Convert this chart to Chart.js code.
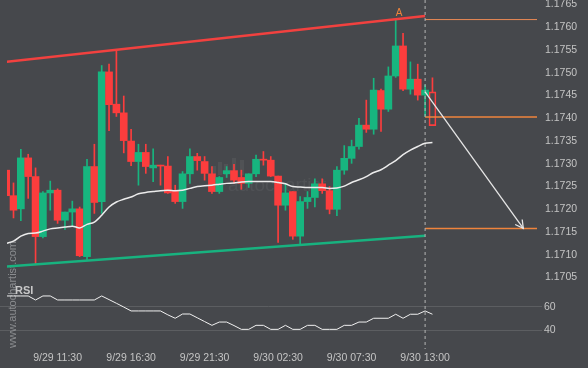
<!DOCTYPE html>
<html><head><meta charset="utf-8">
<script src="https://cdn.jsdelivr.net/npm/chart.js@4.4.1/dist/chart.umd.min.js"></script>
<style>html,body{margin:0;padding:0;background:#46484c;}#wrap{width:588px;height:368px;position:relative;}</style>
</head><body><div id="wrap"><canvas id="c"></canvas></div>
<script>
// ---- DATA (30-minute candles) ----
const opens  = [1.17286,1.17230,1.17201,1.17313,1.17272,1.17140,1.17236,1.17242,1.17176,1.17194,
                1.17201,1.17096,1.17294,1.17217,1.17502,1.17431,1.17412,1.17350,1.17305,1.17325,
                1.17291,1.17297,1.17295,1.17240,1.17217,1.17278,1.17316,1.17305,1.17278,1.17239,
                1.17278,1.17285,1.17270,1.17257,1.17278,1.17310,1.17308,1.17273,1.17209,1.17239,
                1.17141,1.17217,1.17226,1.17256,1.17241,1.17200,1.17286,1.17312,1.17338,1.17385,
                1.17376,1.17461,1.17420,1.17493,1.17559,1.17464,1.17486,1.17451,1.17458];
const highs  = [1.17290,1.17258,1.17332,1.17321,1.17291,1.17239,1.17262,1.17245,1.17194,1.17218,
                1.17205,1.17310,1.17343,1.17516,1.17519,1.17549,1.17449,1.17376,1.17343,1.17343,
                1.17333,1.17297,1.17316,1.17253,1.17283,1.17333,1.17323,1.17316,1.17294,1.17272,
                1.17294,1.17299,1.17286,1.17278,1.17319,1.17327,1.17316,1.17273,1.17256,1.17239,
                1.17228,1.17239,1.17267,1.17267,1.17250,1.17294,1.17340,1.17352,1.17400,1.17440,
                1.17488,1.17464,1.17513,1.17616,1.17587,1.17524,1.17519,1.17473,1.17489];
const lows   = [1.17228,1.17181,1.17175,1.17224,1.17078,1.17137,1.17198,1.17169,1.17156,1.17162,
                1.17096,1.17090,1.17191,1.17191,1.17373,1.17404,1.17324,1.17296,1.17253,1.17279,
                1.17261,1.17253,1.17235,1.17213,1.17202,1.17257,1.17286,1.17264,1.17235,1.17235,
                1.17270,1.17257,1.17244,1.17248,1.17272,1.17297,1.17272,1.17127,1.17198,1.17134,
                1.17124,1.17202,1.17205,1.17235,1.17190,1.17186,1.17277,1.17301,1.17332,1.17369,
                1.17365,1.17371,1.17415,1.17490,1.17461,1.17453,1.17440,1.17404,1.17384];
const closes = [1.17230,1.17198,1.17313,1.17272,1.17140,1.17236,1.17242,1.17176,1.17194,1.17201,
                1.17098,1.17294,1.17215,1.17502,1.17430,1.17412,1.17351,1.17305,1.17325,1.17294,
                1.17297,1.17295,1.17236,1.17217,1.17278,1.17316,1.17307,1.17279,1.17239,1.17270,
                1.17285,1.17264,1.17257,1.17278,1.17310,1.17308,1.17273,1.17209,1.17236,1.17141,
                1.17217,1.17226,1.17256,1.17241,1.17200,1.17286,1.17312,1.17338,1.17385,1.17376,
                1.17462,1.17420,1.17493,1.17559,1.17464,1.17486,1.17451,1.17462,1.17384];
const maValues = [1.17125,1.17130,1.17141,1.17147,1.17148,1.17152,1.17157,1.17159,1.17161,1.17163,
                1.17159,1.17167,1.17172,1.17187,1.17205,1.17216,1.17222,1.17227,1.17234,1.17237,
                1.17239,1.17241,1.17242,1.17241,1.17242,1.17246,1.17250,1.17252,1.17253,1.17255,
                1.17257,1.17258,1.17260,1.17261,1.17261,1.17261,1.17261,1.17259,1.17256,1.17250,
                1.17249,1.17248,1.17248,1.17248,1.17246,1.17247,1.17251,1.17259,1.17265,1.17272,
                1.17281,1.17287,1.17297,1.17307,1.17320,1.17330,1.17338,1.17345,1.17347];
const rsiValues = [69.1,69.1,69.1,69.1,65.7,69.1,69.1,65.7,65.7,65.7,
                65.7,65.7,65.7,69.1,66.0,62.9,59.7,56.4,56.4,56.4,
                56.4,56.4,53.1,50.2,53.8,53.8,50.6,47.4,44.2,47.0,
                47.0,44.0,40.8,40.8,44.2,44.2,40.8,40.8,44.2,40.8,
                40.8,44.2,44.2,40.8,40.8,40.8,44.2,44.2,47.0,47.0,
                50.2,50.2,50.2,53.6,50.2,53.6,53.6,56.4,53.6];
const hollowCandle = 59;                 // last, still-forming candle (1-based position)
const timeTickPositions = [8,18,28,38,48,58];
const timeTickLabels = ['9/29 11:30','9/29 16:30','9/29 21:30','9/30 02:30','9/30 07:30','9/30 13:00'];
const priceTicks = [1.1705,1.1710,1.1715,1.1720,1.1725,1.1730,1.1735,1.1740,1.1745,1.1750,1.1755,1.1760,1.1765];
const rsiTicks = [40,60];
const trendX = [1,58];
const upperTrend = [1.17524,1.17625];
const lowerTrend = [1.17074,1.17142];
const markerCandle = 58;
const levelA = 1.17617, levelEntry = 1.17403, levelTarget = 1.17158;
const arrowX = [58,71.36], arrowY = [1.17458,1.17158];
const patternPointA = {x:54, y:1.17616, label:'A'};

// ---- scale ranges (both value axes span the whole plot height) ----
const X_MIN = 0.163, X_MAX = 73.224;
const P_MIN = 1.16893, P_MAX = 1.17660;
const R_MIN = 24.15, R_MAX = 319.9;

const GREEN = '#17b57f', RED = '#fc3d3d', ORANGE = '#f0843c', TXT = '#c4c4c4';
const FONT = '"Liberation Sans", Arial, sans-serif';
Chart.defaults.font.family = FONT;
Chart.defaults.font.size = 10.5;

const pos = opens.map((_, i) => i + 1);
const CLIP = {left: -7, top: 0, right: 0, bottom: 0};

const bodies = pos.filter(p => p !== hollowCandle).map(p => ({x: p, y: [opens[p-1], closes[p-1]]}));
const hollow = [{x: hollowCandle, y: [opens[hollowCandle-1], closes[hollowCandle-1]]}];
const wickHi = pos.map((p, i) => ({x: p, y: [Math.max(opens[i], closes[i]), highs[i]]}));
const wickLo = pos.map((p, i) => ({x: p, y: [lows[i], Math.min(opens[i], closes[i])]}));
const colorBy = ctx => { const r = ctx.raw; return r && closes[r.x-1] >= opens[r.x-1] ? GREEN : RED; };

const lineDs = (data, color, width, extra) => Object.assign({
  type: 'line', data, borderColor: color, borderWidth: width, pointRadius: 0, yAxisID: 'y', clip: CLIP
}, extra || {});

const noPad = s => { s.paddingTop = 0; s.paddingBottom = 0; s.paddingLeft = 0; s.paddingRight = 0; };

const bgPlugin = {
  id: 'bg',
  beforeDraw(chart) {
    const c = chart.ctx; c.save(); c.fillStyle = '#46484c'; c.fillRect(0, 0, chart.width, chart.height); c.restore();
  },
  beforeDatasetsDraw(chart) {
    const c = chart.ctx; c.save();
    c.fillStyle = 'rgba(255,255,255,0.055)';
    c.font = '19px ' + FONT;
    c.textBaseline = 'alphabetic';
    c.fillText('autochartist', 228, 191);
    [[212,166,4,9],[218,162,4,13],[224,164,4,11],[232,158,4,17],[240,160,4,15]].forEach(r => c.fillRect(r[0], r[1], r[2], r[3]));
    c.translate(13, 348); c.rotate(-Math.PI / 2);
    c.fillStyle = '#8b8d90'; c.font = '11px ' + FONT;
    c.textBaseline = 'middle'; c.textAlign = 'left';
    c.fillText('www.autochartist.com', 0, 0);
    c.restore();
  },
  afterDatasetsDraw(chart) {
    const c = chart.ctx, xs = chart.scales.x, ys = chart.scales.y, ca = chart.chartArea;
    c.save();
    c.setTransform(1, 0, 0, 1, 0, 0);
    const x1 = xs.getPixelForValue(arrowX[0]), y1 = ys.getPixelForValue(arrowY[0]);
    const x2 = xs.getPixelForValue(arrowX[1]), y2 = ys.getPixelForValue(arrowY[1]);
    const a = Math.atan2(y2 - y1, x2 - x1), L = 9, th = 0.5;
    c.strokeStyle = '#e6e6e6'; c.lineWidth = 1.3;
    c.beginPath();
    c.moveTo(x2 - L * Math.cos(a - th), y2 - L * Math.sin(a - th)); c.lineTo(x2, y2);
    c.lineTo(x2 - L * Math.cos(a + th), y2 - L * Math.sin(a + th));
    c.stroke();
    c.fillStyle = ORANGE; c.font = '10px ' + FONT;
    c.textAlign = 'center'; c.textBaseline = 'middle';
    c.fillText(patternPointA.label, xs.getPixelForValue(patternPointA.x) + 3.5, ys.getPixelForValue(patternPointA.y) - 6.5);
    c.fillStyle = '#c8c8c8'; c.font = 'bold 11px ' + FONT;
    c.textAlign = 'left';
    c.fillText('RSI', 15, 291);
    // RSI axis labels: same linear mapping as the RSI axis (plot area, R_MIN..R_MAX)
    c.fillStyle = TXT; c.font = '10.5px ' + FONT;
    rsiTicks.forEach(v => {
      const y = ca.top + (R_MAX - v) / (R_MAX - R_MIN) * (ca.bottom - ca.top);
      c.fillText(String(v), ca.right + 7, y);
    });
    c.restore();
  }
};

new Chart(document.getElementById('c'), {
  type: 'bar',
  data: {
    datasets: [
      {type: 'bar', data: wickHi, backgroundColor: colorBy, barThickness: 1, grouped: false, yAxisID: 'y', clip: CLIP, order: 5},
      {type: 'bar', data: wickLo, backgroundColor: colorBy, barThickness: 1, grouped: false, yAxisID: 'y', clip: CLIP, order: 5},
      {type: 'bar', data: bodies, backgroundColor: colorBy, barThickness: 7, minBarLength: 1, grouped: false, yAxisID: 'y', clip: CLIP, order: 4},
      {type: 'bar', data: hollow, backgroundColor: 'rgba(0,0,0,0)', borderColor: RED, borderWidth: 1, borderSkipped: false, barThickness: 7, grouped: false, yAxisID: 'y', clip: CLIP, order: 4},
      lineDs(pos.map((p, i) => ({x: p, y: maValues[i]})), '#ececec', 1.5, {cubicInterpolationMode: 'monotone', order: 3}),
      lineDs(trendX.map((x, i) => ({x, y: upperTrend[i]})), '#f2413f', 2.5, {order: 2}),
      lineDs(trendX.map((x, i) => ({x, y: lowerTrend[i]})), '#18b27f', 2.5, {order: 2}),
      lineDs([{x: markerCandle, y: P_MAX}, {x: markerCandle, y: P_MIN}], '#b5b5b5', 1, {borderDash: [3, 3], order: 1, clip: false}),
      lineDs([{x: markerCandle, y: levelA}, {x: X_MAX, y: levelA}], '#eb8a55', 1, {order: 1}),
      lineDs([{x: markerCandle, y: levelEntry}, {x: X_MAX, y: levelEntry}], ORANGE, 1.5, {order: 1}),
      lineDs([{x: markerCandle, y: levelTarget}, {x: X_MAX, y: levelTarget}], ORANGE, 1.5, {order: 1}),
      lineDs(arrowX.map((x, i) => ({x, y: arrowY[i]})), '#e6e6e6', 1.3, {order: 0}),
      lineDs(pos.map((p, i) => ({x: p, y: rsiValues[i]})), '#f0f0f0', 1, {yAxisID: 'rsi', order: 1})
    ]
  },
  options: {
    responsive: true, maintainAspectRatio: false, animation: false,
    layout: {padding: 0},
    plugins: {legend: {display: false}, tooltip: {enabled: false}},
    scales: {
      x: {
        type: 'linear', min: X_MIN, max: X_MAX, offset: false,
        grid: {display: false, drawTicks: false}, border: {display: false},
        afterBuildTicks: s => { s.ticks = timeTickPositions.map(v => ({value: v})); },
        afterFit: s => { s.height = 19; noPad(s); },
        ticks: {autoSkip: false, maxRotation: 0, padding: 3, color: TXT,
          callback: v => timeTickLabels[timeTickPositions.indexOf(v)]}
      },
      rsi: {
        type: 'linear', position: 'right', weight: 0, min: R_MIN, max: R_MAX,
        grid: {color: '#5c5e61', lineWidth: 1, drawTicks: true, tickLength: 5}, border: {display: false},
        afterBuildTicks: s => { s.ticks = rsiTicks.map(v => ({value: v})); },
        afterFit: s => { s.width = 0; noPad(s); },
        ticks: {display: false}
      },
      y: {
        type: 'linear', position: 'right', weight: 1, min: P_MIN, max: P_MAX,
        grid: {display: false, drawTicks: false}, border: {display: false},
        afterBuildTicks: s => { s.ticks = priceTicks.map(v => ({value: v})); },
        afterFit: s => { s.width = 51; noPad(s); },
        ticks: {autoSkip: false, padding: 8, color: TXT, callback: v => v.toFixed(4)}
      }
    }
  },
  plugins: [bgPlugin]
});
</script>
</body></html>
